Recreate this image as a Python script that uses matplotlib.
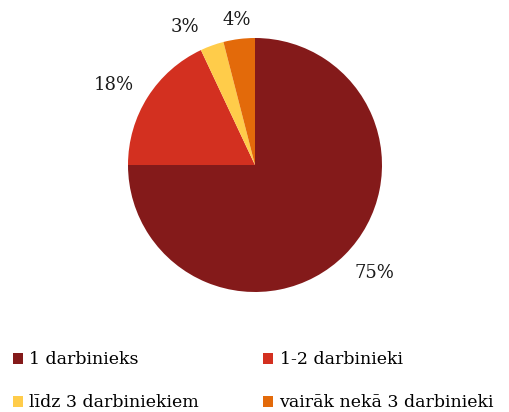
import numpy as np
import matplotlib.pyplot as plt
from matplotlib.patches import Patch

labels = ['1 darbinieks', '1-2 darbinieki', 'līdz 3 darbiniekiem', 'vairāk nekā 3 darbinieki']
values = [75, 18, 3, 4]
colors = ['#841A1A', '#D33020', '#FFCC4A', '#E36A0A']

plt.rcParams['font.family'] = ['DejaVu Serif']

fig = plt.figure(figsize=(5.10, 4.12), dpi=100)
ax = fig.add_axes([128 / 510, 120 / 412, 254 / 510, 254 / 412])

wedges, texts = ax.pie(values, colors=colors, startangle=90, counterclock=False, radius=1)
ax.set_xlim(-1, 1)
ax.set_ylim(-1, 1)
ax.set_aspect('equal')

# label placement (angle in deg, distance in radii), like excel best fit
lab_ang = [-42, 150.5, 117, 97]
lab_dist = [1.27, 1.28, 1.22, 1.15]
for v, a, d in zip(values, lab_ang, lab_dist):
    t = np.deg2rad(a)
    ax.text(d * np.cos(t), d * np.sin(t), f'{v}%', ha='center', va='center',
            fontsize=13, color='#1a1a1a')

# legend is filled row-wise in the original
order = [0, 2, 1, 3]
handles = [Patch(facecolor=colors[i]) for i in order]
fig.legend(handles, [labels[i] for i in order], loc='upper left', bbox_to_anchor=(-0.006, 0.185), ncol=2,
           frameon=False, fontsize=12.5, handlelength=0.6, handleheight=0.6,
           handletextpad=0.35, columnspacing=3.7, labelspacing=1.5)

fig.savefig('out.png', dpi=100)
